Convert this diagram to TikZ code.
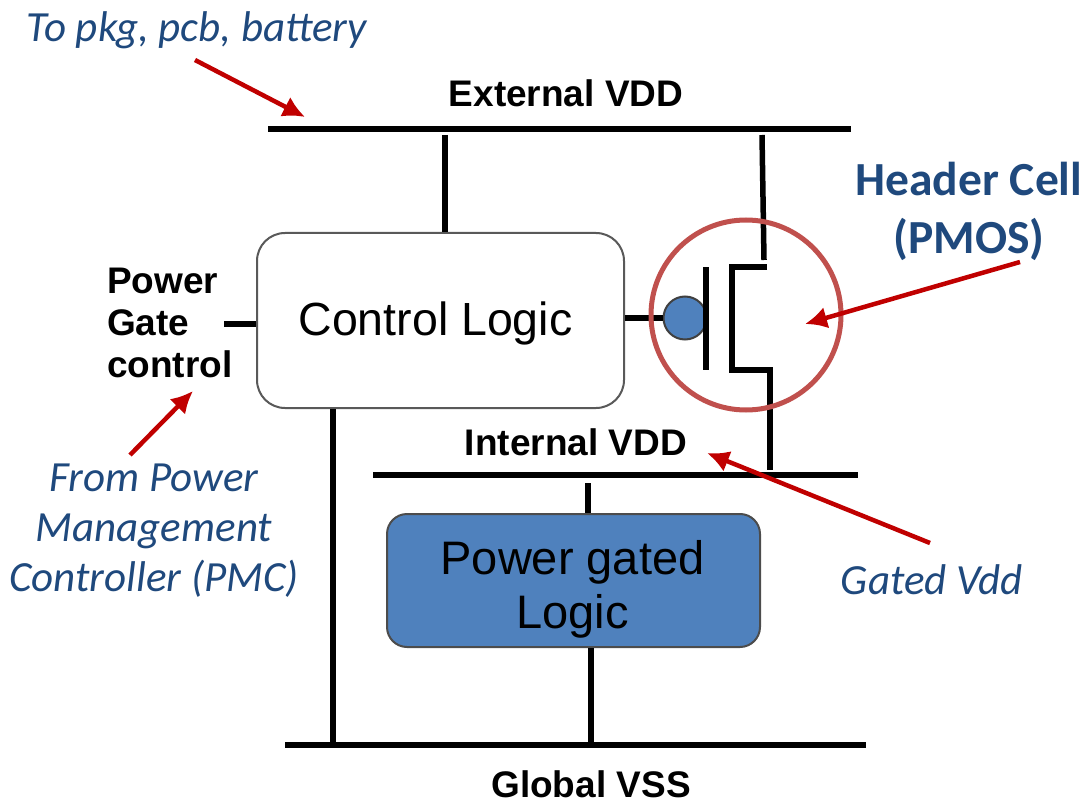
\documentclass[tikz,border=0pt]{standalone}
\usepackage{fontspec}
\setmainfont{Carlito}
\newfontfamily\arialfont{Liberation Sans}
\usetikzlibrary{arrows.meta}
\definecolor{noteblue}{HTML}{1F497D}
\definecolor{notered}{HTML}{C00000}
\definecolor{ringred}{HTML}{C0504D}
\definecolor{gatedblue}{HTML}{4F81BD}
\tikzset{
  wire/.style = {line width=5.5pt, black},
  note/.style = {text=noteblue, font=\fontsize{43}{50}\selectfont\itshape, align=center, inner sep=0pt},
  sig/.style = {font=\arialfont\fontsize{37}{42}\selectfont\bfseries, inner sep=0pt},
  redarrow/.style = {line width=4.5pt, notered, -{Latex[length=22pt,width=22pt]}},
}
\begin{document}
\begin{tikzpicture}[x=1pt, y=-1pt]
\useasboundingbox (0,0) rectangle (1086,802);
% rails
\coordinate (ext1) at (268,129); \coordinate (ext2) at (851,129);
\coordinate (int1) at (373,475); \coordinate (int2) at (858,475);
\coordinate (vss1) at (285,745); \coordinate (vss2) at (866,745);
\draw [wire] (ext1) -- (ext2);
\draw [wire] (int1) -- (int2);
\draw [wire] (vss1) -- (vss2);
\node[sig, anchor=base](extlabel) at (566,107){External VDD};
\node[sig, anchor=base](intlabel) at (576,455){Internal VDD};
\node[sig, anchor=base](vsslabel) at (591,797){Global VSS};
% blocks
\node[draw=black!65, line width=2pt, fill=white, rounded corners=28pt, minimum width=367pt, minimum height=175pt](ctrl) at (440.5,320.5){};
\node[font=\arialfont\fontsize{46.5}{50}\selectfont, inner sep=0pt](ctrltext) at (435.5,323){Control Logic};
\node[draw=black!70, line width=2pt, fill=gatedblue, rounded corners=20pt, minimum width=373pt, minimum height=133pt](gated) at (573.5,580.5){};
\node[align=center, inner sep=0pt, font=\arialfont\fontsize{47}{54}\selectfont](gatedtext) at (572.5,589){Power gated\\Logic};
\node[sig, align=left, anchor=west](pgc) at (107,323){Power\\Gate\\control};
% supply wires
\coordinate (ctrltop) at (445,135);
\coordinate (gatedtop) at (588,483);
\draw [wire] (ctrltop) -- (ctrl.north -| ctrltop);
\draw [wire] (gatedtop) -- (gated.north -| gatedtop);
\coordinate (gatedbot) at (591,745);
\draw [wire] (gated.south -| gatedbot) -- (gatedbot);
\coordinate (ctrlbot) at (333,745);
\draw [wire] (ctrl.south -| ctrlbot) -- (ctrlbot);
\coordinate (pgcin) at (224,324);
\draw [wire] (pgcin) -- (pgcin -| ctrl.west);
% header cell
\node[circle, draw=black!75, line width=2pt, fill=gatedblue, minimum size=43pt, inner sep=0pt](bubble) at (685,318){};
\coordinate (srctop) at (762,135); \coordinate (srcbot) at (764,260);
\coordinate (chtop) at (732,267); \coordinate (chbot) at (732,370);
\coordinate (srcend) at (767,267); \coordinate (drnend) at (770,370);
\coordinate (drnbot) at (770,470);
\coordinate (gatetop) at (706,267); \coordinate (gatebot) at (706,370);
\draw [wire] (srctop) -- (srcbot);
\draw [wire, line join=miter] (srcend) -- (chtop) -- (chbot) -- (drnend) -- (drnbot);
\draw [wire] (gatetop) -- (gatebot);
\draw [wire] (ctrl.east |- bubble) -- (bubble);
\node[circle, draw=ringred, line width=5pt, minimum size=190pt, inner sep=0pt](ring) at (746,315){};
% notes
\node[note](pkg) at (197,30){To pkg, pcb, battery};
\node[note](pmc) at (154,531){From Power\\Management\\Controller (PMC)};
\node[note](gvdd) at (932,580){Gated Vdd};
\node[note, font=\fontsize{47.5}{58}\selectfont\bfseries](hdr) at (969,211){Header Cell\\(PMOS)};
\coordinate (pkgfrom) at (195,60); \coordinate (pkgto) at (305,117);
\coordinate (pmcfrom) at (130,455); \coordinate (pmcto) at (193,391);
\coordinate (gvddfrom) at (930,543); \coordinate (gvddto) at (707,453);
\coordinate (hdrfrom) at (1020,262); \coordinate (hdrto) at (805,324);
\draw [redarrow] (pkgfrom) -- (pkgto);
\draw [redarrow] (pmcfrom) -- (pmcto);
\draw [redarrow] (gvddfrom) -- (gvddto);
\draw [redarrow] (hdrfrom) -- (hdrto);
\end{tikzpicture}
\end{document}
